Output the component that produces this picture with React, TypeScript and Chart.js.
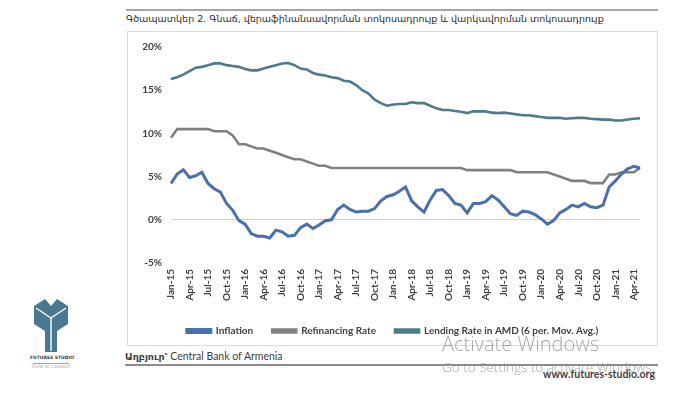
import React, { useEffect, useRef } from "react";
import { Chart, registerables } from "chart.js";

Chart.register(...registerables);

const months: string[] = [
  "Jan-15","Feb-15","Mar-15","Apr-15","May-15","Jun-15","Jul-15","Aug-15","Sep-15","Oct-15","Nov-15","Dec-15",
  "Jan-16","Feb-16","Mar-16","Apr-16","May-16","Jun-16","Jul-16","Aug-16","Sep-16","Oct-16","Nov-16","Dec-16",
  "Jan-17","Feb-17","Mar-17","Apr-17","May-17","Jun-17","Jul-17","Aug-17","Sep-17","Oct-17","Nov-17","Dec-17",
  "Jan-18","Feb-18","Mar-18","Apr-18","May-18","Jun-18","Jul-18","Aug-18","Sep-18","Oct-18","Nov-18","Dec-18",
  "Jan-19","Feb-19","Mar-19","Apr-19","May-19","Jun-19","Jul-19","Aug-19","Sep-19","Oct-19","Nov-19","Dec-19",
  "Jan-20","Feb-20","Mar-20","Apr-20","May-20","Jun-20","Jul-20","Aug-20","Sep-20","Oct-20","Nov-20","Dec-20",
  "Jan-21","Feb-21","Mar-21","Apr-21","May-21",
];

const inflation: number[] = [
  4.2, 5.3, 5.8, 4.9, 5.1, 5.5, 4.2, 3.6, 3.2, 1.9, 1.1, -0.1,
  -0.5, -1.6, -1.9, -1.9, -2.1, -1.2, -1.4, -1.9, -1.8, -0.9, -0.5, -1.0,
  -0.6, -0.1, 0.0, 1.2, 1.7, 1.2, 0.9, 1.0, 1.0, 1.3, 2.2, 2.7,
  2.9, 3.3, 3.8, 2.2, 1.5, 0.9, 2.3, 3.4, 3.5, 2.8, 1.9, 1.7,
  0.8, 1.9, 1.9, 2.1, 2.8, 2.3, 1.5, 0.7, 0.5, 1.0, 0.9, 0.6,
  0.1, -0.5, -0.1, 0.8, 1.2, 1.7, 1.5, 1.9, 1.5, 1.4, 1.7, 3.8,
  4.5, 5.3, 5.9, 6.2, 6.0,
];

const refinancingRate: number[] = [
  9.5, 10.5, 10.5, 10.5, 10.5, 10.5, 10.5, 10.25, 10.25, 10.25, 9.75, 8.75,
  8.75, 8.5, 8.25, 8.25, 8.0, 7.75, 7.5, 7.25, 7.0, 7.0, 6.75, 6.5,
  6.25, 6.25, 6.0, 6.0, 6.0, 6.0, 6.0, 6.0, 6.0, 6.0, 6.0, 6.0,
  6.0, 6.0, 6.0, 6.0, 6.0, 6.0, 6.0, 6.0, 6.0, 6.0, 6.0, 6.0,
  5.75, 5.75, 5.75, 5.75, 5.75, 5.75, 5.75, 5.75, 5.5, 5.5, 5.5, 5.5,
  5.5, 5.5, 5.25, 5.0, 4.75, 4.5, 4.5, 4.5, 4.25, 4.25, 4.25, 5.25,
  5.25, 5.5, 5.5, 5.5, 6.0,
];

const lendingRate: number[] = [
  16.3, 16.5, 16.8, 17.2, 17.6, 17.7, 17.9, 18.1, 18.1, 17.9, 17.8, 17.7,
  17.45, 17.3, 17.3, 17.5, 17.7, 17.9, 18.1, 18.15, 17.9, 17.5, 17.4, 17.0,
  16.8, 16.7, 16.5, 16.4, 16.1, 16.0, 15.6, 15.0, 14.6, 13.9, 13.5, 13.2,
  13.35, 13.4, 13.4, 13.6, 13.5, 13.5, 13.2, 12.9, 12.7, 12.7, 12.6, 12.5,
  12.35, 12.55, 12.55, 12.55, 12.4, 12.35, 12.4, 12.3, 12.2, 12.1, 12.1, 12.0,
  11.9, 11.8, 11.8, 11.8, 11.7, 11.75, 11.8, 11.8, 11.7, 11.65, 11.6, 11.6,
  11.5, 11.5, 11.6, 11.7, 11.75,
];

const seriesNames: string[] = [
  "Inflation",
  "Refinancing Rate",
  "Lending Rate in AMD (6 per. Mov. Avg.)",
];
const seriesColors: string[] = ["#4A6FAD", "#808080", "#4E7A8C"];

const yTicks: number[] = [-5, 0, 5, 10, 15, 20];

const titleText =
  "Գծապատկեր 2. Գնաճ, վերաֆինանսավորման տոկոսադրույք և վարկավորման տոկոսադրույք";
const sourceLabel = "Աղբյուր՝";
const sourceText = " Central Bank of Armenia";
const siteText = "www.futures-studio.org";

const FONT = "Lato, 'DejaVu Sans', sans-serif";

function ChartCanvas() {
  const ref = useRef<HTMLCanvasElement | null>(null);
  useEffect(() => {
    if (!ref.current) return;
    const chart = new Chart(ref.current, {
      type: "line",
      data: {
        labels: months,
        datasets: [
          {
            label: seriesNames[0],
            data: inflation,
            borderColor: seriesColors[0],
            backgroundColor: seriesColors[0],
            borderWidth: 3,
            pointRadius: 0,
            tension: 0,
          },
          {
            label: seriesNames[1],
            data: refinancingRate,
            borderColor: seriesColors[1],
            backgroundColor: seriesColors[1],
            borderWidth: 2.6,
            pointRadius: 0,
            tension: 0,
          },
          {
            label: seriesNames[2],
            data: lendingRate,
            borderColor: seriesColors[2],
            backgroundColor: seriesColors[2],
            borderWidth: 2.6,
            pointRadius: 0,
            tension: 0,
          },
        ],
      },
      options: {
        animation: false,
        responsive: false,
        maintainAspectRatio: false,
        layout: { padding: { left: 16, right: 16, top: 16, bottom: 0 } },
        plugins: {
          tooltip: { enabled: false },
          legend: {
            position: "bottom",
            labels: {
              boxWidth: 24,
              boxHeight: 3,
              padding: 19,
              color: "#404040",
              font: { family: FONT, size: 10, weight: "bold" },
            },
          },
        },
        scales: {
          x: {
            type: "category",
            offset: false,
            grid: { display: false, drawTicks: false },
            border: { display: false },
            ticks: {
              autoSkip: false,
              minRotation: 90,
              maxRotation: 90,
              padding: 6,
              color: "#404040",
              font: { family: FONT, size: 10, weight: "bold" },
              callback: (_v: any, i: number) => (i % 3 === 0 ? months[i] : ""),
            },
            afterFit: (s: any) => {
              s.height = 44;
            },
          },
          y: {
            min: -5,
            max: 20,
            afterBuildTicks: (s: any) => {
              s.ticks = yTicks.map((v) => ({ value: v }));
            },
            grid: {
              drawTicks: false,
              color: (c: any) => (c.tick && c.tick.value === 0 ? "#D0D0D0" : "rgba(0,0,0,0)"),
              lineWidth: 1,
            },
            border: { display: false },
            ticks: {
              padding: 9,
              color: "#404040",
              font: { family: FONT, size: 10, weight: "bold" },
              callback: (v: any) => v + "%",
            },
            afterFit: (s: any) => {
              s.width = 28;
            },
          },
        },
      },
    });
    return () => chart.destroy();
  }, []);
  return (
    <canvas
      ref={ref}
      width={531}
      height={315}
      style={{ position: "absolute", left: 127, top: 31, width: 531, height: 315 }}
    />
  );
}

function Logo() {
  return (
    <div style={{ position: "absolute", left: 30, top: 298, width: 42, height: 76 }}>
      <svg width={42} height={56} viewBox="0 0 42 56" style={{ position: "absolute", left: 0, top: 0 }}>
        <polygon
          points="4,8 15,1 21,8 27,1 38,8 38,26 27,33 27,54 15,54 15,33 4,26"
          fill="#4B7891"
        />
        <polyline points="6,10 21,20 36,10" fill="none" stroke="#ffffff" strokeWidth={1.4} />
        <line x1={21} y1={20} x2={21} y2={53} stroke="#ffffff" strokeWidth={1.4} />
      </svg>
      <div
        style={{
          position: "absolute",
          left: 0,
          top: 57,
          width: 42,
          fontFamily: "'DejaVu Sans', sans-serif",
          fontSize: 4.5,
          fontWeight: "bold",
          color: "#3a3a3a",
          textAlign: "center",
          lineHeight: "6px",
          whiteSpace: "nowrap",
        }}
      >
        FUTURES STUDIO
      </div>
      <div style={{ position: "absolute", left: 3, top: 64.5, width: 36, height: 1, background: "#9aaab5" }} />
      <div
        style={{
          position: "absolute",
          left: 0,
          top: 66,
          width: 42,
          fontFamily: "'DejaVu Sans', sans-serif",
          fontSize: 4.5,
          color: "#9a9a9a",
          textAlign: "center",
          lineHeight: "6px",
          whiteSpace: "nowrap",
        }}
      >
        Think to connect!
      </div>
    </div>
  );
}

export default function App() {
  return (
    <div
      style={{
        position: "absolute",
        left: 0,
        top: 0,
        width: 694,
        height: 398,
        background: "#ffffff",
        overflow: "hidden",
      }}
    >
      <div style={{ position: "absolute", left: 126, top: 9, width: 532, height: 2, background: "#A6A6A6" }} />
      <div
        style={{
          position: "absolute",
          left: 126,
          top: 13,
          fontFamily: "'DejaVu Sans', sans-serif",
          fontSize: 9.5,
          lineHeight: "12px",
          color: "#2b2b2b",
          whiteSpace: "nowrap",
        }}
      >
        {titleText}
      </div>
      <div
        style={{
          position: "absolute",
          left: 127,
          top: 31,
          width: 531,
          height: 315,
          boxSizing: "border-box",
          border: "1px solid #DCDCDC",
        }}
      />
      <ChartCanvas />
      <div
        style={{
          position: "absolute",
          left: 125,
          top: 349,
          fontFamily: FONT,
          fontSize: 10.5,
          lineHeight: "14px",
          color: "#404040",
          whiteSpace: "nowrap",
        }}
      >
        <span style={{ fontFamily: "'DejaVu Sans', sans-serif", fontWeight: "bold", fontSize: 9.5 }}>{sourceLabel}</span>
        {sourceText}
      </div>
      <div style={{ position: "absolute", left: 125, top: 364, width: 533, height: 2, background: "#8C8C8C" }} />
      <div
        style={{
          position: "absolute",
          left: 543,
          top: 368,
          fontFamily: FONT,
          fontSize: 10.5,
          fontWeight: "bold",
          lineHeight: "12px",
          color: "#404040",
          whiteSpace: "nowrap",
        }}
      >
        {siteText}
      </div>
      <Logo />
      <div
        style={{
          position: "absolute",
          left: 442,
          top: 332,
          fontFamily: "'Open Sans', sans-serif",
          fontWeight: 300,
          fontSize: 20,
          lineHeight: "24px",
          color: "rgba(140,140,140,0.75)",
          whiteSpace: "nowrap",
        }}
      >
        Activate Windows
      </div>
      <div
        style={{
          position: "absolute",
          left: 442,
          top: 359,
          fontFamily: "'Open Sans', sans-serif",
          fontWeight: 300,
          fontSize: 13.5,
          lineHeight: "17px",
          color: "rgba(140,140,140,0.75)",
          whiteSpace: "nowrap",
        }}
      >
        Go to Settings to activate Windows.
      </div>
    </div>
  );
}
